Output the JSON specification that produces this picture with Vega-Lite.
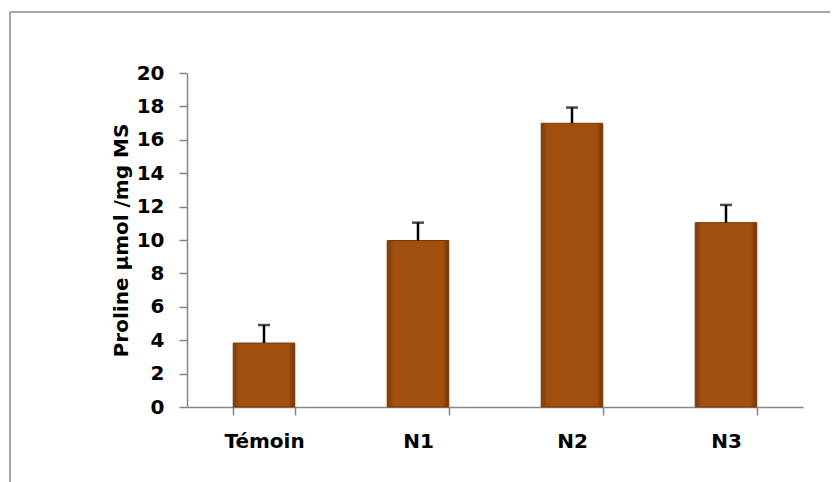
{
  "$schema": "https://vega.github.io/schema/vega-lite/v6.json",
  "width": 822,
  "height": 470,
  "padding": {"left": 10, "top": 12, "right": 0, "bottom": 0},
  "autosize": {"type": "none"},
  "background": "white",
  "config": {
    "font": "DejaVu Sans",
    "view": {"stroke": "#8a8a8a", "strokeWidth": 1.5, "strokeDash": [820, 1294, 470, 0]}
  },
  "data": {
    "values": [
      {"groupe": "Témoin", "proline": 3.83, "haut": 4.91},
      {"groupe": "N1", "proline": 9.97, "haut": 11.04},
      {"groupe": "N2", "proline": 16.99, "haut": 17.93},
      {"groupe": "N3", "proline": 11.04, "haut": 12.1}
    ]
  },
  "encoding": {
    "x": {
      "field": "groupe",
      "type": "nominal",
      "sort": ["Témoin", "N1", "N2", "N3"],
      "scale": {"range": [177, 793], "paddingInner": 0.6, "paddingOuter": 0.3},
      "axis": {
        "title": null,
        "offset": -75,
        "tickBand": "extent",
        "domainColor": "#868686",
        "domainWidth": 1.5,
        "tickColor": "#868686",
        "tickWidth": 1.5,
        "tickSize": 8,
        "labelAngle": 0,
        "labelFont": "DejaVu Sans",
        "labelFontWeight": "bold",
        "labelFontSize": 20,
        "labelColor": "#000000",
        "labelPadding": 16
      }
    }
  },
  "layer": [
    {
      "mark": {
        "type": "bar",
        "stroke": "#7a3a08",
        "strokeWidth": 1,
        "fill": {
          "gradient": "linear",
          "x1": 0, "y1": 0, "x2": 1, "y2": 0,
          "stops": [
            {"offset": 0, "color": "#7c3a07"},
            {"offset": 0.1, "color": "#a14f0e"},
            {"offset": 0.9, "color": "#a14f0e"},
            {"offset": 1, "color": "#733405"}
          ]
        }
      },
      "encoding": {
        "y": {
          "field": "proline",
          "type": "quantitative",
          "scale": {"domain": [0, 20], "range": [395, 61], "nice": false, "zero": true},
          "axis": {
            "title": "Proline µmol /mg MS",
            "titleFont": "DejaVu Sans",
            "titleFontWeight": "bold",
            "titleFontSize": 20,
            "titleColor": "#000000",
            "titlePadding": 5,
            "offset": -177,
            "values": [0, 2, 4, 6, 8, 10, 12, 14, 16, 18, 20],
            "grid": false,
            "domainColor": "#868686",
            "domainWidth": 1.5,
            "tickColor": "#868686",
            "tickWidth": 1.5,
            "tickSize": 8,
            "labelFont": "DejaVu Sans",
            "labelFontWeight": "bold",
            "labelFontSize": 20,
            "labelColor": "#000000",
            "labelPadding": 15
          }
        }
      }
    },
    {
      "mark": {"type": "rule", "color": "#000000", "strokeWidth": 2.5},
      "encoding": {
        "y": {"field": "proline", "type": "quantitative"},
        "y2": {"field": "haut"}
      }
    },
    {
      "mark": {"type": "tick", "color": "#000000", "size": 12, "thickness": 2.5},
      "encoding": {
        "y": {"field": "haut", "type": "quantitative"}
      }
    }
  ]
}
